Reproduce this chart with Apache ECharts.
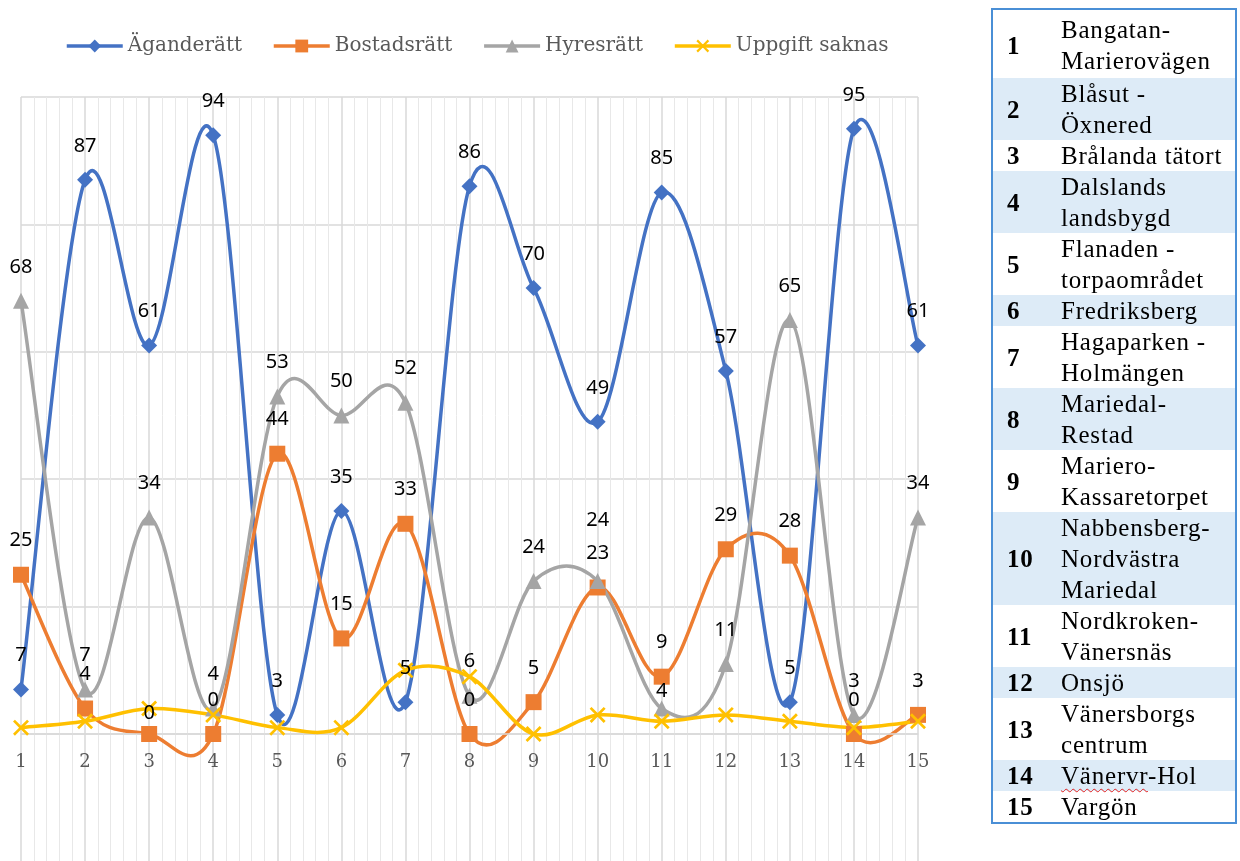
<!DOCTYPE html>
<html>
<head>
<meta charset="utf-8">
<script src="https://cdn.jsdelivr.net/npm/echarts@6/dist/echarts.min.js"></script>
<style>
  html, body { margin: 0; padding: 0; background: #fff; }
  #chart { position: absolute; left: 0; top: 0; width: 1240px; height: 861px; }
  #areas {
    position: absolute; left: 991px; top: 8px; width: 246px;
    border: 2px solid #4a8fd6; border-collapse: collapse; table-layout: fixed;
    font-family: "Liberation Serif", serif; font-size: 25px; letter-spacing: 0.8px; color: #000;
  }
  #areas td { padding: 0; line-height: 31px; vertical-align: middle; }
  #areas td.num { width: 69px; padding-left: 14px; box-sizing: border-box; font-weight: bold; }
  #areas tr.shade td { background: #ddebf7; }
  #areas tr.first td { padding-top: 4px; padding-bottom: 2px; }
  .typo { text-decoration: underline wavy #e02020; text-decoration-thickness: 1px; text-underline-offset: 4px; text-decoration-skip-ink: none; }
</style>
</head>
<body>
<div id="chart"></div>
<table id="areas"></table>
<script>
// categories = area numbers, names shown in the table on the right
const categories = ['1', '2', '3', '4', '5', '6', '7', '8', '9', '10', '11', '12', '13', '14', '15']
const areaNames = [
  'Bangatan-\nMarierovägen', 'Blåsut -\nÖxnered', 'Brålanda tätort', 'Dalslands\nlandsbygd',
  'Flanaden -\ntorpaområdet', 'Fredriksberg', 'Hagaparken -\nHolmängen', 'Mariedal-\nRestad',
  'Mariero-\nKassaretorpet', 'Nabbensberg-\nNordvästra\nMariedal', 'Nordkroken-\nVänersnäs',
  'Onsjö', 'Vänersborgs\ncentrum', 'Vänervr-Hol', 'Vargön'
]

// percent per tenure type
const agande = [7, 87, 61, 94, 3, 35, 5, 86, 70, 49, 85, 57, 5, 95, 61]
const bostad = [25, 4, 0, 0, 44, 15, 33, 0, 5, 23, 9, 29, 28, 0, 3]
const hyres = [68, 7, 34, 4, 53, 50, 52, 6, 24, 24, 4, 11, 65, 3, 34]
const saknas = [1, 2, 4, 3, 1, 1, 10, 9, 0, 3, 2, 3, 2, 1, 2]

// table
const table = document.getElementById('areas')
table.innerHTML = areaNames.map((n, i) => {
  let cls = i % 2 === 1 ? 'shade' : ''
  if (i === 0) cls += ' first'
  let txt = n.replace(/\n/g, '<br>').replace('Vänervr', '<span class="typo">Vänervr</span>')
  return '<tr class="' + cls + '"><td class="num">' + categories[i] + '</td><td>' + txt + '</td></tr>'
}).join('')

const xMark = 'path://M0,1.2L1.2,0L5,3.8L8.8,0L10,1.2L6.2,5L10,8.8L8.8,10L5,6.2L1.2,10L0,8.8L3.8,5Z'

// smooth curve like the spreadsheet one (catmull-rom through the points)
function curve(name, values, color, z) {
  const n = values.length
  return {
    type: 'custom',
    name: name + ' kurva',
    z: z,
    silent: true,
    xAxisIndex: 0,
    yAxisIndex: 0,
    clip: false,
    data: values.map((v, i) => [i, v]),
    renderItem: function (params, api) {
      const i = params.dataIndex
      if (i >= n - 1) return null
      const pt = k => {
        const j = Math.max(0, Math.min(n - 1, k))
        return api.coord([j, values[j]])
      }
      const p0 = pt(i - 1), p1 = pt(i), p2 = pt(i + 1), p3 = pt(i + 2)
      return {
        type: 'bezierCurve',
        shape: {
          x1: p1[0], y1: p1[1], x2: p2[0], y2: p2[1],
          cpx1: p1[0] + (p2[0] - p0[0]) / 6, cpy1: p1[1] + (p2[1] - p0[1]) / 6,
          cpx2: p2[0] - (p3[0] - p1[0]) / 6, cpy2: p2[1] - (p3[1] - p1[1]) / 6
        },
        style: { stroke: color, lineWidth: 3.5, fill: null, lineCap: 'round' }
      }
    }
  }
}

// a few labels were nudged in the original to avoid overlaps
const labelNudge = { 'Hyresrätt': { 9: -27, 10: 17 }, 'Bostadsrätt': { 2: 13 } }

function marks(name, values, color, symbol, labels) {
  const nudge = labelNudge[name] || {}
  return {
    type: 'line',
    name: name,
    z: 10,
    xAxisIndex: 0,
    yAxisIndex: 0,
    clip: false,
    data: values.map((v, i) => nudge[i] ? { value: v, label: { offset: [0, nudge[i]] } } : v),
    symbol: symbol,
    symbolSize: 16,
    showAllSymbol: true,
    itemStyle: { color: color },
    lineStyle: { color: color, width: 3.5, opacity: 0 },
    label: {
      show: labels, position: 'top', distance: 16,
      color: '#000', fontSize: 20, fontFamily: 'Noto Sans'
    },
    emphasis: { disabled: true }
  }
}

const colors = ['#4472C4', '#ED7D31', '#A5A5A5', '#FFC000']
const gridLine = { color: '#d9d9d9', width: 1.5 }
const minorLine = { color: '#e8e8e8', width: 1 }

const chart = echarts.init(document.getElementById('chart'))
chart.setOption({
  animation: false,
  legend: {
    data: ['Äganderätt', 'Bostadsrätt', 'Hyresrätt', 'Uppgift saknas'],
    left: 60,
    top: 31,
    itemWidth: 56,
    itemHeight: 16,
    itemGap: 30,
    lineStyle: { opacity: 1, width: 3.5 },
    textStyle: { color: '#595959', fontSize: 20, fontFamily: 'DejaVu Serif' }
  },
  // main plot (0..100) and the empty strip below the axis, which only carries vertical lines
  grid: [
    { left: 21, right: 322, top: 97, bottom: 127 },
    { left: 21, right: 322, top: 734, bottom: 0 }
  ],
  xAxis: [
    {
      type: 'category',
      gridIndex: 0,
      data: categories,
      boundaryGap: false,
      axisLine: { lineStyle: gridLine },
      axisTick: { show: false },
      axisLabel: { color: '#595959', fontSize: 18, fontFamily: 'DejaVu Serif', margin: 19 },
      splitLine: { show: false },
      z: 3
    },
    {
      type: 'value',
      gridIndex: 0,
      min: 0,
      max: 14,
      interval: 1,
      position: 'top',
      axisLine: { show: false },
      axisTick: { show: false },
      axisLabel: { show: false },
      splitLine: { show: true, lineStyle: gridLine },
      minorTick: { show: false, splitNumber: 5 },
      minorSplitLine: { show: true, lineStyle: minorLine }
    },
    {
      type: 'value',
      gridIndex: 1,
      min: 0,
      max: 14,
      interval: 1,
      axisLine: { show: false },
      axisTick: { show: false },
      axisLabel: { show: false },
      splitLine: { show: true, lineStyle: gridLine },
      minorTick: { show: false, splitNumber: 5 },
      minorSplitLine: { show: true, lineStyle: minorLine }
    }
  ],
  yAxis: [
    {
      type: 'value',
      gridIndex: 0,
      min: 0,
      max: 100,
      interval: 20,
      axisLine: { show: false },
      axisTick: { show: false },
      axisLabel: { show: false },
      splitLine: { lineStyle: gridLine }
    },
    {
      type: 'value',
      gridIndex: 1,
      min: 0,
      max: 1,
      show: false,
      splitLine: { show: false }
    }
  ],
  series: [
    curve('Äganderätt', agande, colors[0], 2),
    curve('Bostadsrätt', bostad, colors[1], 3),
    curve('Hyresrätt', hyres, colors[2], 4),
    curve('Uppgift saknas', saknas, colors[3], 5),
    marks('Äganderätt', agande, colors[0], 'diamond', true),
    marks('Bostadsrätt', bostad, colors[1], 'rect', true),
    marks('Hyresrätt', hyres, colors[2], 'triangle', true),
    marks('Uppgift saknas', saknas, colors[3], xMark, false)
  ]
})
</script>
</body>
</html>
